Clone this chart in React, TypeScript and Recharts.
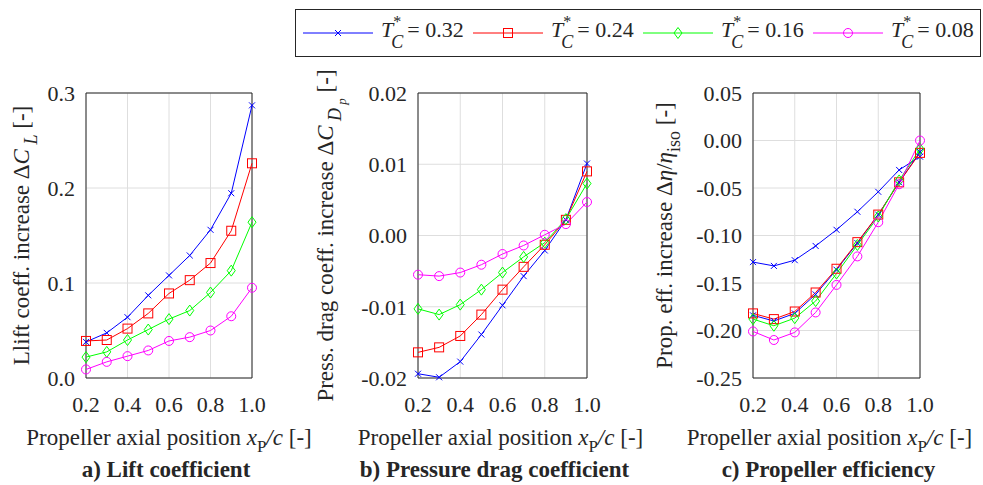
import type { ReactNode } from "react";
import { LineChart, Line, XAxis, YAxis, CartesianGrid, ReferenceArea, Label } from "recharts";

const FONT = "'Liberation Serif', 'Times New Roman', serif";
const INK = "#262626";
const GRID = "#dedede";
const TICK_SIZE = 22;
const TITLE_SIZE = 23;

// propeller axial position x_P/c
const xPos = [0.2, 0.3, 0.4, 0.5, 0.6, 0.7, 0.8, 0.9, 1.0];
const thrustLevels = ["0.32", "0.24", "0.16", "0.08"];
const xTicks = [0.2, 0.4, 0.6, 0.8, 1.0];

// a) lift coefficient increase
const liftT032 = [0.038, 0.0475, 0.064, 0.087, 0.108, 0.129, 0.156, 0.1945, 0.287];
const liftT024 = [0.039, 0.04, 0.052, 0.068, 0.089, 0.103, 0.121, 0.155, 0.226];
const liftT016 = [0.022, 0.0275, 0.04, 0.051, 0.062, 0.071, 0.09, 0.113, 0.164];
const liftT008 = [0.009, 0.017, 0.023, 0.029, 0.039, 0.043, 0.05, 0.065, 0.095];
const liftTicks = [0, 0.1, 0.2, 0.3];

// b) pressure drag coefficient increase
const dragT032 = [-0.0194, -0.0199, -0.0177, -0.0139, -0.0098, -0.0057, -0.0021, 0.0022, 0.0101];
const dragT024 = [-0.0164, -0.0157, -0.0141, -0.0111, -0.0076, -0.0044, -0.0013, 0.0022, 0.009];
const dragT016 = [-0.0103, -0.0111, -0.0097, -0.0076, -0.0052, -0.003, -0.001, 0.0023, 0.0073];
const dragT008 = [-0.0055, -0.0057, -0.0052, -0.0041, -0.0026, -0.0014, 0.0001, 0.0016, 0.0047];
const dragTicks = [-0.02, -0.01, 0, 0.01, 0.02];

// c) propeller efficiency increase (two blue curves are plotted for T*_C = 0.32)
const effT032 = [-0.128, -0.132, -0.126, -0.111, -0.094, -0.075, -0.054, -0.031, -0.017];
const effT032b = [-0.184, -0.19, -0.182, -0.162, -0.136, -0.108, -0.078, -0.044, -0.012];
const effT024 = [-0.182, -0.188, -0.18, -0.16, -0.135, -0.107, -0.078, -0.044, -0.013];
const effT016 = [-0.188, -0.195, -0.187, -0.169, -0.14, -0.11, -0.08, -0.042, -0.009];
const effT008 = [-0.201, -0.21, -0.202, -0.181, -0.152, -0.122, -0.086, -0.046, 0.0];
const effTicks = [-0.25, -0.2, -0.15, -0.1, -0.05, 0, 0.05];

type Marker = "cross" | "square" | "diamond" | "circle";
type Series = { key: string; color: string; marker: Marker };

const BLUE: Series = { key: "t032", color: "#0000ff", marker: "cross" };
const RED: Series = { key: "t024", color: "#ff0000", marker: "square" };
const GREEN: Series = { key: "t016", color: "#00ff00", marker: "diamond" };
const MAGENTA: Series = { key: "t008", color: "#ff00ff", marker: "circle" };
const legendSeries = [BLUE, RED, GREEN, MAGENTA];

const toRows = (cols: Record<string, number[]>) =>
  xPos.map((x, i) => {
    const row: Record<string, number> = { x };
    Object.keys(cols).forEach((k) => (row[k] = cols[k][i]));
    return row;
  });

const liftRows = toRows({ t032: liftT032, t024: liftT024, t016: liftT016, t008: liftT008 });
const dragRows = toRows({ t032: dragT032, t024: dragT024, t016: dragT016, t008: dragT008 });
const effRows = toRows({ t032: effT032, t032b: effT032b, t024: effT024, t016: effT016, t008: effT008 });

const MarkerGlyph = ({ kind, cx, cy, color }: { kind: Marker; cx: number; cy: number; color: string }) => {
  const common = { stroke: color, strokeWidth: 1, fill: "none" };
  if (kind === "cross")
    return <path d={`M${cx - 3},${cy - 3}L${cx + 3},${cy + 3}M${cx - 3},${cy + 3}L${cx + 3},${cy - 3}`} {...common} />;
  if (kind === "square") return <rect x={cx - 4.5} y={cy - 4.5} width={9} height={9} {...common} />;
  if (kind === "diamond")
    return <path d={`M${cx},${cy - 5.5}L${cx + 4},${cy}L${cx},${cy + 5.5}L${cx - 4},${cy}Z`} {...common} />;
  return <circle cx={cx} cy={cy} r={4.5} {...common} />;
};

const PLOT_TOP = 93;
const PLOT_BOTTOM = 378;
const CHART_H = 485;
const X_AXIS_H = 30;

type PanelProps = {
  left: number;
  width: number;
  plotLeft: number;
  plotRight: number;
  rows: Record<string, number>[];
  series: Series[];
  yTicks: number[];
  digits: number;
  yTitle: ReactNode;
  yTitleGap: number;
  xTitleShift: number;
  caption: string;
  captionShift: number;
};

const Panel = (p: PanelProps) => {
  const yDomain: [number, number] = [p.yTicks[0], p.yTicks[p.yTicks.length - 1]];
  const midX = (p.plotLeft + p.plotRight) / 2;
  const midY = (PLOT_TOP + PLOT_BOTTOM) / 2;
  const yTitleX = p.plotLeft - p.yTitleGap;
  return (
    <div style={{ position: "absolute", left: p.left, top: 0 }}>
      <LineChart
        width={p.width}
        height={CHART_H}
        data={p.rows}
        margin={{ top: PLOT_TOP, right: p.width - p.plotRight, bottom: CHART_H - PLOT_BOTTOM - X_AXIS_H, left: 0 }}
      >
        <CartesianGrid stroke={GRID} strokeWidth={1} verticalValues={xTicks} horizontalValues={p.yTicks} />
        <XAxis
          type="number"
          dataKey="x"
          domain={[0.2, 1.0]}
          ticks={xTicks}
          tickFormatter={(v: number) => v.toFixed(1)}
          height={X_AXIS_H}
          axisLine={false}
          tickLine={false}
          tickSize={6}
          tickMargin={12}
          tick={{ fontSize: TICK_SIZE, fontFamily: FONT, fill: INK }}
        >
          <Label
            content={() => (
              <g fontFamily={FONT} fill={INK}>
                <text x={midX + p.xTitleShift} y={PLOT_BOTTOM + 67} textAnchor="middle" fontSize={TITLE_SIZE}>
                  Propeller axial position <tspan fontStyle="italic">x</tspan>
                  <tspan dy={7} fontSize={17}>P</tspan>
                  <tspan dy={-7} fontStyle="italic">/c</tspan> [-]
                </text>
                <text
                  x={midX + p.captionShift}
                  y={PLOT_BOTTOM + 99}
                  textAnchor="middle"
                  fontSize={TITLE_SIZE}
                  fontWeight="bold"
                >
                  {p.caption}
                </text>
              </g>
            )}
          />
        </XAxis>
        <YAxis
          type="number"
          domain={yDomain}
          ticks={p.yTicks}
          width={p.plotLeft}
          tickFormatter={(v: number) => v.toFixed(p.digits)}
          axisLine={false}
          tickLine={false}
          tickSize={6}
          tickMargin={5}
          tick={{ fontSize: TICK_SIZE, fontFamily: FONT, fill: INK }}
        >
          <Label
            content={() => (
              <text
                x={yTitleX}
                y={midY}
                transform={`rotate(-90 ${yTitleX} ${midY})`}
                textAnchor="middle"
                fontSize={TITLE_SIZE}
                fontFamily={FONT}
                fill={INK}
              >
                {p.yTitle}
              </text>
            )}
          />
        </YAxis>
        <ReferenceArea x1={0.2} x2={1.0} y1={yDomain[0]} y2={yDomain[1]} fill="none" stroke={INK} strokeWidth={1} />
        {p.series.map((s) => (
          <Line
            key={s.key}
            dataKey={s.key}
            type="linear"
            stroke={s.color}
            strokeWidth={1}
            isAnimationActive={false}
            activeDot={false}
            dot={(d: any) => (
              <g key={`${s.key}-${d.index}`}>
                <MarkerGlyph kind={s.marker} cx={d.cx} cy={d.cy} color={s.color} />
              </g>
            )}
          />
        ))}
      </LineChart>
    </div>
  );
};

const LegendBox = () => (
  <svg width={983} height={70} style={{ position: "absolute", left: 0, top: 0 }} fontFamily={FONT}>
    <rect x={295.5} y={9.5} width={685} height={47} fill="#fff" stroke={INK} strokeWidth={1} />
    {legendSeries.map((s, i) => {
      const x0 = 303 + i * 170;
      return (
        <g key={s.key}>
          <line x1={x0} x2={x0 + 70} y1={33} y2={33} stroke={s.color} strokeWidth={1} />
          <MarkerGlyph kind={s.marker} cx={x0 + 35} cy={33} color={s.color} />
          <text x={x0 + 78} y={37} fontSize={22} fill={INK}>
            <tspan fontStyle="italic">T</tspan>
            <tspan dy={-10} fontSize={16}>*</tspan>
            <tspan dx={-10} dy={21} fontSize={18} fontStyle="italic">C</tspan>
            <tspan dx={4} dy={-11}>= {thrustLevels[i]}</tspan>
          </text>
        </g>
      );
    })}
  </svg>
);

export default function App() {
  return (
    <div style={{ position: "absolute", left: 0, top: 0, width: 983, height: 485, background: "#fff" }}>
      <Panel
        left={0}
        width={330}
        plotLeft={86}
        plotRight={252}
        rows={liftRows}
        series={[BLUE, RED, GREEN, MAGENTA]}
        yTicks={liftTicks}
        digits={1}
        yTitleGap={57}
        yTitle={
          <>
            Llift coeff. increase Δ<tspan fontStyle="italic">C</tspan>
            <tspan dy={8} fontSize={18} fontStyle="italic"> L</tspan>
            <tspan dy={-8}> [-]</tspan>
          </>
        }
        xTitleShift={0}
        caption="a) Lift coefficient"
        captionShift={-3}
      />
      <Panel
        left={300}
        width={360}
        plotLeft={118}
        plotRight={287}
        rows={dragRows}
        series={[BLUE, RED, GREEN, MAGENTA]}
        yTicks={dragTicks}
        digits={2}
        yTitleGap={85}
        yTitle={
          <>
            Press. drag coeff. increase Δ<tspan fontStyle="italic">C</tspan>
            <tspan dy={8} fontSize={18} fontStyle="italic"> D</tspan>
            <tspan dy={5} fontSize={13} fontStyle="italic"> p</tspan>
            <tspan dy={-13}>   [-]</tspan>
          </>
        }
        xTitleShift={-2}
        caption="b) Pressure drag coefficient"
        captionShift={-8}
      />
      <Panel
        left={630}
        width={353}
        plotLeft={123}
        plotRight={290}
        rows={effRows}
        series={[BLUE, { ...BLUE, key: "t032b" }, RED, GREEN, MAGENTA]}
        yTicks={effTicks}
        digits={2}
        yTitleGap={81}
        yTitle={
          <>
            Prop. eff. increase Δ<tspan fontStyle="italic">η</tspan>/<tspan fontStyle="italic">η</tspan>
            <tspan dy={8} fontSize={18}>iso</tspan>
            <tspan dy={-8}> [-]</tspan>
          </>
        }
        xTitleShift={-7}
        caption="c) Propeller efficiency"
        captionShift={-8}
      />
      <LegendBox />
    </div>
  );
}
